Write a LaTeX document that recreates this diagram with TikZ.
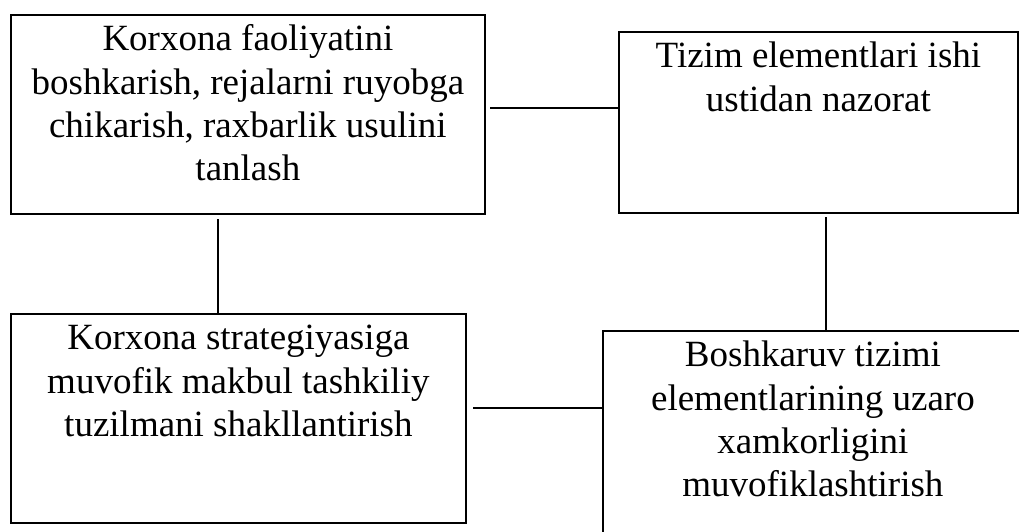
\documentclass[tikz,border=0pt]{standalone}
\usepackage{fontspec}
\setmainfont{Liberation Serif}
\begin{document}
\begin{tikzpicture}[x=1pt,y=-1pt,
  box/.style={draw,line width=1.8pt,inner sep=0pt,anchor=north west,
    font=\fontsize{37}{43.3}\selectfont},
  conn/.style={line width=1.3pt}]
\useasboundingbox (0,0) rectangle (1019,531);
\newcommand\boxtext[3]{\parbox[c][#1][t]{#2}{\centering\rule{0pt}{36pt}#3}}
\node[box] (b1) at (10,14) {\boxtext{199pt}{474pt}{Korxona faoliyatini\\boshkarish, rejalarni ruyobga\\chikarish, raxbarlik usulini\\tanlash}};
\node[box] (b2) at (618,31) {\boxtext{181pt}{399pt}{Tizim elementlari ishi\\ustidan nazorat}};
\node[box] (b3) at (10,313) {\boxtext{209pt}{455pt}{Korxona strategiyasiga\\muvofik makbul tashkiliy\\tuzilmani shakllantirish}};
\node[box] (b4) at (602,330) {\boxtext{230pt}{420pt}{Boshkaruv tizimi\\elementlarining uzaro\\xamkorligini\\muvofiklashtirish}};
\coordinate (c1) at (490,108);
\coordinate (c2) at (218,219);
\coordinate (c3) at (826,217);
\coordinate (c4) at (473,408);
\draw[conn] (c1) -- (c1 -| b2.west);
\draw[conn] (c2) -- (c2 |- b3.north);
\draw[conn] (c3) -- (c3 |- b4.north);
\draw[conn] (c4) -- (c4 -| b4.west);
\end{tikzpicture}
\end{document}
